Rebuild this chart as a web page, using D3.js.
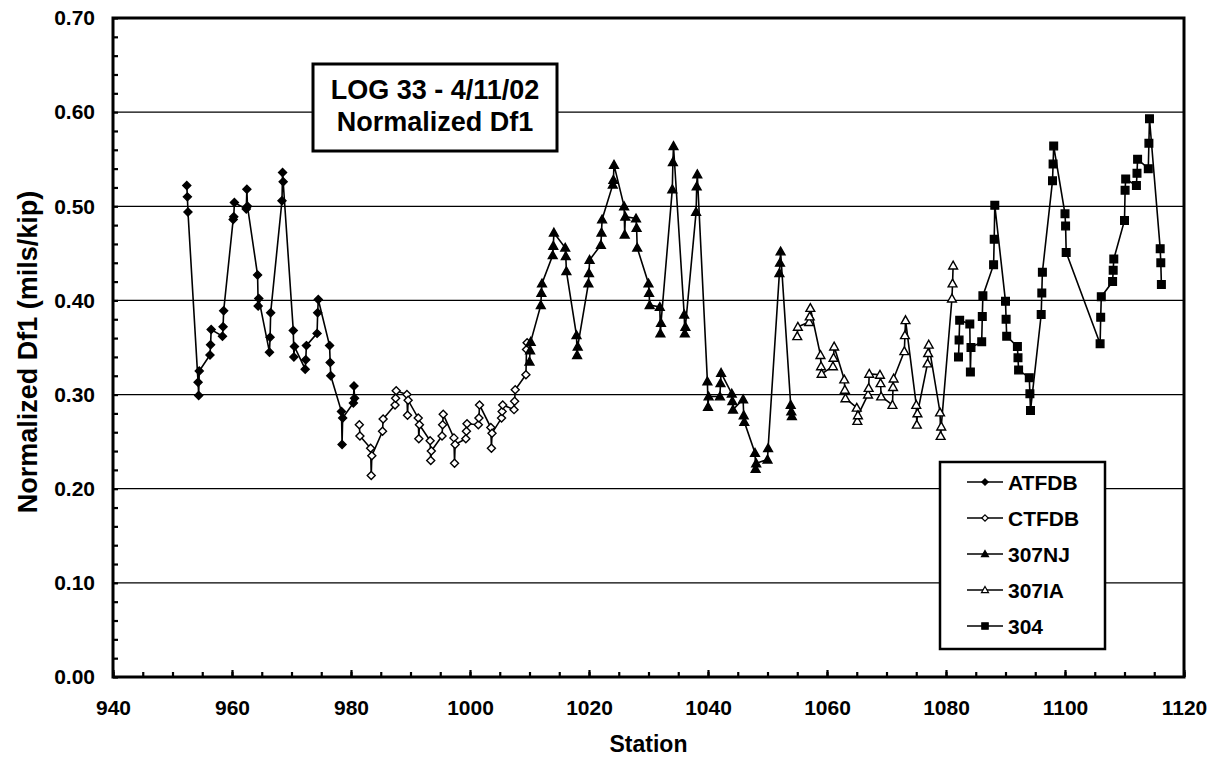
<!DOCTYPE html>
<html lang="en">
<head>
  <meta charset="UTF-8">
  <title>LOG 33 - Normalized Df1</title>
  <script src="https://d3js.org/d3.v7.min.js"></script>
  <style>
    body {
      margin: 0;
      padding: 0;
      background: #fff;
    }
    svg text {
      font-family: "Liberation Sans", Arial, sans-serif;
      font-weight: bold;
      fill: #000;
    }
  </style>
</head>
<body>
  <svg id="chart"></svg>

  <script>
    // Data: [station, normalized Df1]
    const atfdb = [
      [952.4, 0.522], [952.5, 0.510], [952.6, 0.494],
      [954.3, 0.313], [954.4, 0.299], [954.5, 0.325],
      [956.3, 0.342], [956.4, 0.353], [956.5, 0.369],
      [958.4, 0.362], [958.5, 0.372], [958.6, 0.389],
      [960.2, 0.486], [960.3, 0.489], [960.4, 0.504],
      [962.4, 0.497], [962.5, 0.518], [962.6, 0.500],
      [964.3, 0.427], [964.4, 0.394], [964.5, 0.402],
      [966.3, 0.345], [966.4, 0.361], [966.5, 0.387],
      [968.4, 0.506], [968.5, 0.536], [968.6, 0.526],
      [970.3, 0.368], [970.4, 0.340], [970.5, 0.351],
      [972.3, 0.327], [972.4, 0.337], [972.5, 0.352],
      [974.3, 0.365], [974.4, 0.387], [974.5, 0.401],
      [976.4, 0.352], [976.5, 0.334], [976.6, 0.320],
      [978.4, 0.282], [978.5, 0.247], [978.6, 0.275],
      [980.4, 0.291], [980.5, 0.309], [980.6, 0.296]
    ];

    const ctfdb = [
      [981.4, 0.268], [981.5, 0.256],
      [983.3, 0.243], [983.4, 0.214], [983.5, 0.235],
      [985.3, 0.261], [985.4, 0.274],
      [987.4, 0.289], [987.5, 0.296], [987.6, 0.304],
      [989.4, 0.300], [989.5, 0.278], [989.6, 0.294],
      [991.3, 0.275], [991.4, 0.253], [991.5, 0.268],
      [993.3, 0.251], [993.4, 0.230], [993.5, 0.240],
      [995.3, 0.256], [995.4, 0.268], [995.5, 0.279],
      [997.3, 0.254], [997.4, 0.227], [997.5, 0.247],
      [999.3, 0.253], [999.4, 0.261], [999.5, 0.269],
      [1001.4, 0.268], [1001.5, 0.275], [1001.6, 0.289],
      [1003.5, 0.265], [1003.6, 0.243], [1003.7, 0.259],
      [1005.3, 0.275], [1005.4, 0.282], [1005.5, 0.289],
      [1007.4, 0.284], [1007.5, 0.293], [1007.6, 0.305],
      [1009.4, 0.321], [1009.5, 0.348], [1009.6, 0.355]
    ];

    const nj307 = [
      [1010.0, 0.335], [1010.1, 0.347], [1010.2, 0.356],
      [1011.9, 0.395], [1012.0, 0.408], [1012.1, 0.418],
      [1013.9, 0.448], [1014.0, 0.458], [1014.1, 0.472],
      [1016.0, 0.456], [1016.1, 0.447], [1016.2, 0.431],
      [1017.9, 0.363], [1018.0, 0.342], [1018.1, 0.351],
      [1019.9, 0.418], [1020.0, 0.429], [1020.1, 0.443],
      [1022.0, 0.459], [1022.1, 0.472], [1022.2, 0.486],
      [1024.0, 0.523], [1024.1, 0.528], [1024.2, 0.544],
      [1025.9, 0.500], [1026.0, 0.470], [1026.1, 0.489],
      [1027.9, 0.487], [1028.0, 0.477], [1028.1, 0.456],
      [1030.0, 0.418], [1030.1, 0.408], [1030.2, 0.395],
      [1031.9, 0.393], [1032.0, 0.365], [1032.1, 0.376],
      [1034.0, 0.518], [1034.1, 0.547], [1034.2, 0.564],
      [1036.0, 0.385], [1036.1, 0.365], [1036.2, 0.372],
      [1038.0, 0.494], [1038.1, 0.521], [1038.2, 0.534],
      [1039.9, 0.314], [1040.0, 0.287], [1040.1, 0.298],
      [1042.0, 0.298], [1042.1, 0.312], [1042.2, 0.323],
      [1044.0, 0.301], [1044.1, 0.293], [1044.2, 0.284],
      [1045.9, 0.295], [1046.0, 0.278], [1046.1, 0.271],
      [1047.9, 0.238], [1048.0, 0.221], [1048.1, 0.227],
      [1050.0, 0.231], [1050.1, 0.243],
      [1052.0, 0.429], [1052.1, 0.440], [1052.2, 0.452],
      [1053.9, 0.289], [1054.0, 0.282], [1054.1, 0.277]
    ];

    const ia307 = [
      [1055.0, 0.362], [1055.1, 0.372],
      [1057.0, 0.377], [1057.1, 0.383], [1057.2, 0.392],
      [1058.9, 0.342], [1059.0, 0.330], [1059.1, 0.322],
      [1061.0, 0.330], [1061.1, 0.339], [1061.2, 0.351],
      [1062.9, 0.316], [1063.0, 0.305], [1063.1, 0.296],
      [1065.0, 0.286], [1065.1, 0.272], [1065.2, 0.278],
      [1066.9, 0.300], [1067.0, 0.307], [1067.1, 0.322],
      [1068.9, 0.321], [1069.0, 0.312], [1069.1, 0.298],
      [1071.0, 0.289], [1071.1, 0.308], [1071.2, 0.317],
      [1073.0, 0.346], [1073.1, 0.363], [1073.2, 0.379],
      [1075.0, 0.289], [1075.1, 0.268], [1075.2, 0.280],
      [1076.9, 0.333], [1077.0, 0.344], [1077.1, 0.353],
      [1079.0, 0.281], [1079.1, 0.256], [1079.2, 0.266],
      [1081.0, 0.402], [1081.1, 0.418], [1081.2, 0.437]
    ];

    const s304 = [
      [1082.1, 0.340], [1082.2, 0.358], [1082.3, 0.379],
      [1084.0, 0.375], [1084.1, 0.324], [1084.2, 0.350],
      [1086.0, 0.356], [1086.1, 0.383], [1086.2, 0.405],
      [1088.0, 0.438], [1088.1, 0.465], [1088.2, 0.501],
      [1090.0, 0.399], [1090.1, 0.380], [1090.2, 0.362],
      [1092.0, 0.351], [1092.1, 0.339], [1092.2, 0.326],
      [1094.0, 0.318], [1094.1, 0.301], [1094.2, 0.283],
      [1096.0, 0.385], [1096.1, 0.408], [1096.2, 0.430],
      [1097.9, 0.527], [1098.0, 0.545], [1098.1, 0.564],
      [1100.0, 0.492], [1100.1, 0.479], [1100.2, 0.451],
      [1105.9, 0.354], [1106.0, 0.382], [1106.1, 0.404],
      [1108.0, 0.420], [1108.1, 0.432], [1108.2, 0.444],
      [1110.0, 0.485], [1110.1, 0.517], [1110.2, 0.529],
      [1112.0, 0.522], [1112.1, 0.535], [1112.2, 0.550],
      [1114.0, 0.540], [1114.1, 0.567], [1114.2, 0.593],
      [1116.0, 0.455], [1116.1, 0.440], [1116.2, 0.417]
    ];

    const seriesNames = ["ATFDB", "CTFDB", "307NJ", "307IA", "304"];
    const xTicks = [940, 960, 980, 1000, 1020, 1040, 1060, 1080, 1100, 1120];
    const yTicks = [0, 0.1, 0.2, 0.3, 0.4, 0.5, 0.6, 0.7];

    const width = 1217, height = 760;
    const plot = { left: 113, right: 1184, top: 18, bottom: 677 };

    const svg = d3.select("#chart")
      .attr("width", width)
      .attr("height", height);

    const x = d3.scaleLinear().domain([940, 1120]).range([plot.left, plot.right]);
    const y = d3.scaleLinear().domain([0, 0.7]).range([plot.bottom, plot.top]);

    // marker shapes (Excel style, not the tall d3 diamond)
    const shapes = {
      diamond: r => `M0,${-r}L${r},0L0,${r}L${-r},0Z`,
      triangle: r => `M0,${-r * 1.1}L${r * 1.1},${r * 0.85}L${-r * 1.1},${r * 0.85}Z`,
      square: r => `M${-r},${-r}H${r}V${r}H${-r}Z`
    };

    const series = [
      { name: seriesNames[0], data: atfdb, shape: "diamond", fill: "#000" },
      { name: seriesNames[1], data: ctfdb, shape: "diamond", fill: "#fff" },
      { name: seriesNames[2], data: nj307, shape: "triangle", fill: "#000" },
      { name: seriesNames[3], data: ia307, shape: "triangle", fill: "#fff" },
      { name: seriesNames[4], data: s304, shape: "square", fill: "#000" }
    ];

    // gridlines
    svg.append("g")
      .selectAll("line")
      .data(yTicks.filter(v => v > 0 && v < 0.7))
      .enter()
      .append("line")
      .attr("x1", plot.left)
      .attr("x2", plot.right)
      .attr("y1", d => y(d))
      .attr("y2", d => y(d))
      .attr("stroke", "#000")
      .attr("stroke-width", 1.3);

    // x axis: minor ticks every 5, major every 20 with labels
    const xMinor = d3.axisBottom(x)
      .tickValues(d3.range(940, 1121, 5))
      .tickSize(-5)
      .tickFormat("");
    svg.append("g")
      .attr("transform", `translate(0,${plot.bottom})`)
      .call(xMinor)
      .call(g => g.select(".domain").remove())
      .call(g => g.selectAll("line").attr("stroke-width", 2.2));

    const xMajor = d3.axisBottom(x)
      .tickValues(xTicks)
      .tickSize(-7)
      .tickPadding(23)
      .tickFormat(d3.format("d"));
    svg.append("g")
      .attr("transform", `translate(0,${plot.bottom})`)
      .call(xMajor)
      .call(g => g.select(".domain").remove())
      .call(g => g.selectAll("line").attr("stroke-width", 2.2))
      .call(g => g.selectAll("text")
        .attr("font-size", 21)
        .attr("font-family", null));

    // y axis: minor ticks every 0.02, labels every 0.1
    const yMinor = d3.axisLeft(y)
      .tickValues(d3.range(0, 36).map(i => i * 0.02))
      .tickSize(-5)
      .tickFormat("");
    svg.append("g")
      .attr("transform", `translate(${plot.left},0)`)
      .call(yMinor)
      .call(g => g.select(".domain").remove())
      .call(g => g.selectAll("line").attr("stroke-width", 2.2));

    const yMajor = d3.axisLeft(y)
      .tickValues(yTicks)
      .tickSize(0)
      .tickPadding(18)
      .tickFormat(d3.format(".2f"));
    svg.append("g")
      .attr("transform", `translate(${plot.left},0)`)
      .call(yMajor)
      .call(g => g.select(".domain").remove())
      .call(g => g.selectAll("text")
        .attr("font-size", 21)
        .attr("font-family", null));

    // plot frame
    svg.append("rect")
      .attr("x", plot.left)
      .attr("y", plot.top)
      .attr("width", plot.right - plot.left)
      .attr("height", plot.bottom - plot.top)
      .attr("fill", "none")
      .attr("stroke", "#000")
      .attr("stroke-width", 3);

    // lines and markers
    const line = d3.line()
      .x(d => x(d[0]))
      .y(d => y(d[1]));

    series.forEach(s => {
      svg.append("path")
        .datum(s.data)
        .attr("d", line)
        .attr("fill", "none")
        .attr("stroke", "#000")
        .attr("stroke-width", 1.6);
    });

    series.forEach(s => {
      svg.append("g")
        .selectAll("path")
        .data(s.data)
        .enter()
        .append("path")
        .attr("transform", d => `translate(${x(d[0])},${y(d[1])})`)
        .attr("d", shapes[s.shape](s.shape === "square" ? 3.8 : 4))
        .attr("fill", s.fill)
        .attr("stroke", "#000")
        .attr("stroke-width", 1.4);
    });

    // title box
    const titleBox = { x: 313, y: 64, w: 244, h: 87 };
    svg.append("rect")
      .attr("x", titleBox.x)
      .attr("y", titleBox.y)
      .attr("width", titleBox.w)
      .attr("height", titleBox.h)
      .attr("fill", "#fff")
      .attr("stroke", "#000")
      .attr("stroke-width", 3);
    svg.append("text")
      .attr("x", titleBox.x + titleBox.w / 2)
      .attr("y", titleBox.y + 35)
      .attr("text-anchor", "middle")
      .attr("font-size", 27)
      .text("LOG 33 - 4/11/02");
    svg.append("text")
      .attr("x", titleBox.x + titleBox.w / 2)
      .attr("y", titleBox.y + 67)
      .attr("text-anchor", "middle")
      .attr("font-size", 27)
      .text("Normalized Df1");

    // legend
    const legendBox = { x: 940, y: 462, w: 165, h: 187 };
    svg.append("rect")
      .attr("x", legendBox.x)
      .attr("y", legendBox.y)
      .attr("width", legendBox.w)
      .attr("height", legendBox.h)
      .attr("fill", "#fff")
      .attr("stroke", "#000")
      .attr("stroke-width", 2.5);

    const legend = svg.append("g")
      .selectAll("g")
      .data(series)
      .enter()
      .append("g")
      .attr("transform", (d, i) => `translate(${legendBox.x},${legendBox.y + 20 + i * 36})`);

    legend.append("line")
      .attr("x1", 27)
      .attr("x2", 63)
      .attr("stroke", "#000")
      .attr("stroke-width", 1.6);
    legend.append("path")
      .attr("transform", "translate(45,0)")
      .attr("d", d => shapes[d.shape](3.2))
      .attr("fill", d => d.fill)
      .attr("stroke", "#000")
      .attr("stroke-width", 1.2);
    legend.append("text")
      .attr("x", 68)
      .attr("y", 7.5)
      .attr("font-size", 21)
      .text(d => d.name);

    // axis titles
    svg.append("text")
      .attr("x", (plot.left + plot.right) / 2)
      .attr("y", 752)
      .attr("text-anchor", "middle")
      .attr("font-size", 23)
      .text("Station");

    svg.append("text")
      .attr("transform", `translate(37,352) rotate(-90)`)
      .attr("text-anchor", "middle")
      .attr("font-size", 27)
      .text("Normalized Df1 (mils/kip)");
  </script>
</body>
</html>
